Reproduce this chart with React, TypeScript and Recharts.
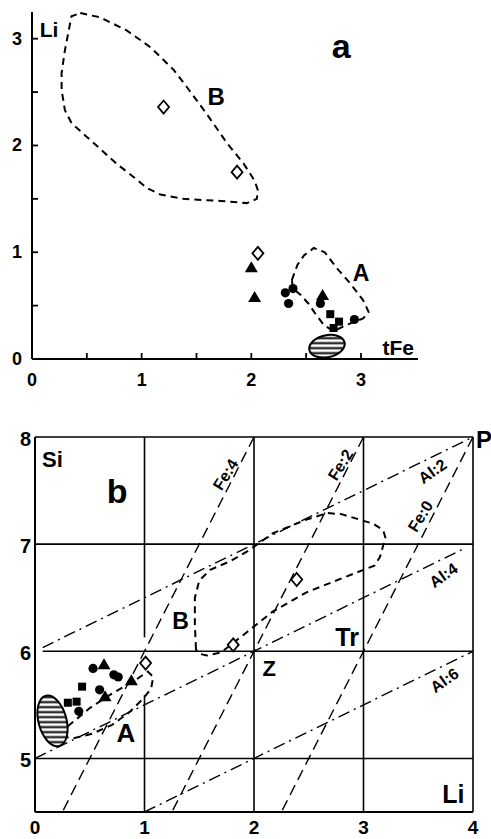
import React from 'react';
import { ScatterChart, Scatter, XAxis, YAxis, ReferenceLine, ReferenceDot } from 'recharts';

// ---------- panel a: Li vs tFe ----------
const aXTicks = [0, 0.5, 1, 1.5, 2, 2.5, 3];
const aYTicks = [0, 0.5, 1, 1.5, 2, 2.5, 3];

const aDiamonds = [
  { x: 1.2, y: 2.36 },
  { x: 1.87, y: 1.75 },
  { x: 2.06, y: 0.99 },
];
const aTriangles = [
  { x: 2.0, y: 0.86 },
  { x: 2.03, y: 0.58 },
  { x: 2.65, y: 0.6 },
];
const aCircles = [
  { x: 2.31, y: 0.62 },
  { x: 2.38, y: 0.66 },
  { x: 2.34, y: 0.52 },
  { x: 2.63, y: 0.52 },
  { x: 2.94, y: 0.37 },
];
const aSquares = [
  { x: 2.72, y: 0.42 },
  { x: 2.8, y: 0.35 },
  { x: 2.75, y: 0.29 },
];
const aHatched = [{ x: 2.69, y: 0.12 }];

// field outlines
const aFieldB = [
  { x: 0.44, y: 3.24 }, { x: 0.62, y: 3.2 }, { x: 0.86, y: 3.08 }, { x: 1.08, y: 2.92 },
  { x: 1.29, y: 2.71 }, { x: 1.41, y: 2.55 }, { x: 1.59, y: 2.3 }, { x: 1.78, y: 2.02 },
  { x: 1.93, y: 1.83 }, { x: 2.03, y: 1.67 }, { x: 2.06, y: 1.58 }, { x: 2.05, y: 1.5 },
  { x: 1.96, y: 1.46 }, { x: 1.72, y: 1.48 }, { x: 1.38, y: 1.5 }, { x: 1.17, y: 1.54 },
  { x: 1.05, y: 1.6 }, { x: 0.92, y: 1.71 }, { x: 0.77, y: 1.83 }, { x: 0.62, y: 1.97 },
  { x: 0.5, y: 2.08 }, { x: 0.36, y: 2.21 }, { x: 0.3, y: 2.33 }, { x: 0.27, y: 2.52 },
  { x: 0.27, y: 2.68 }, { x: 0.3, y: 2.89 }, { x: 0.33, y: 3.05 }, { x: 0.36, y: 3.21 },
];
const aFieldA = [
  { x: 2.37, y: 0.74 }, { x: 2.42, y: 0.88 }, { x: 2.48, y: 0.97 }, { x: 2.57, y: 1.04 },
  { x: 2.67, y: 1.0 }, { x: 2.78, y: 0.85 }, { x: 2.9, y: 0.71 }, { x: 3.02, y: 0.55 },
  { x: 3.07, y: 0.44 }, { x: 3.02, y: 0.38 }, { x: 2.87, y: 0.32 }, { x: 2.75, y: 0.26 },
  { x: 2.66, y: 0.32 }, { x: 2.58, y: 0.43 }, { x: 2.52, y: 0.52 }, { x: 2.45, y: 0.6 },
  { x: 2.38, y: 0.66 },
];

const aLabels = [
  { text: 'Li', x: 0.155, y: 3.09, size: 21 },
  { text: 'a', x: 2.82, y: 2.93, size: 34 },
  { text: 'B', x: 1.68, y: 2.46, size: 24 },
  { text: 'A', x: 3.0, y: 0.81, size: 23 },
  { text: 'tFe', x: 3.34, y: 0.11, size: 21 },
];

// ---------- panel b: Si vs Li ----------
const bXTicks = [0, 1, 2, 3, 4];
const bYTicks = [5, 6, 7, 8];

const bDiamonds = [
  { x: 1.01, y: 5.89 },
  { x: 1.81, y: 6.06 },
  { x: 2.39, y: 6.67 },
];
const bTriangles = [
  { x: 0.63, y: 5.88 },
  { x: 0.88, y: 5.73 },
  { x: 0.64, y: 5.58 },
];
const bCircles = [
  { x: 0.53, y: 5.84 },
  { x: 0.72, y: 5.78 },
  { x: 0.76, y: 5.76 },
  { x: 0.59, y: 5.64 },
  { x: 0.4, y: 5.44 },
];
const bSquares = [
  { x: 0.43, y: 5.67 },
  { x: 0.3, y: 5.52 },
  { x: 0.38, y: 5.53 },
];
const bHatched = [{ x: 0.16, y: 5.35 }];

const bFieldA = [
  { x: 0.3, y: 5.3 }, { x: 0.5, y: 5.47 }, { x: 0.71, y: 5.61 }, { x: 0.9, y: 5.72 },
  { x: 1.03, y: 5.81 }, { x: 1.08, y: 5.76 }, { x: 1.06, y: 5.65 }, { x: 0.98, y: 5.55 },
  { x: 0.86, y: 5.43 }, { x: 0.7, y: 5.31 }, { x: 0.52, y: 5.23 }, { x: 0.36, y: 5.19 },
  { x: 0.26, y: 5.2 },
];
const bFieldB = [
  { x: 1.47, y: 6.02 }, { x: 1.46, y: 6.25 }, { x: 1.46, y: 6.5 }, { x: 1.5, y: 6.66 },
  { x: 1.6, y: 6.76 }, { x: 1.78, y: 6.84 }, { x: 1.95, y: 6.94 }, { x: 2.17, y: 7.1 },
  { x: 2.48, y: 7.23 }, { x: 2.67, y: 7.29 }, { x: 2.8, y: 7.28 }, { x: 3.09, y: 7.19 },
  { x: 3.18, y: 7.13 }, { x: 3.2, y: 7.06 }, { x: 3.15, y: 6.88 }, { x: 3.1, y: 6.8 },
  { x: 2.8, y: 6.68 }, { x: 2.48, y: 6.55 }, { x: 2.17, y: 6.37 }, { x: 1.9, y: 6.15 },
  { x: 1.7, y: 5.99 }, { x: 1.57, y: 5.96 }, { x: 1.49, y: 5.98 },
];

// frame and grid
const bGrid = [
  [{ x: 0, y: 8 }, { x: 4, y: 8 }],
  [{ x: 4, y: 8 }, { x: 4, y: 4.5 }],
  [{ x: 0, y: 7 }, { x: 4, y: 7 }],
  [{ x: 0.07, y: 6 }, { x: 4, y: 6 }],
  [{ x: 0, y: 5 }, { x: 4, y: 5 }],
  [{ x: 1, y: 8 }, { x: 1, y: 6.13 }],
  [{ x: 1, y: 5.59 }, { x: 1, y: 4.5 }],
  [{ x: 2, y: 8 }, { x: 2, y: 4.5 }],
  [{ x: 3, y: 8 }, { x: 3, y: 4.5 }],
];
// constant Fe lines (dashed) and constant Al lines (dash-dot)
const feLines = [
  [{ x: 2, y: 8 }, { x: 0.25, y: 4.5 }],
  [{ x: 3, y: 8 }, { x: 1.25, y: 4.5 }],
  [{ x: 4, y: 8 }, { x: 2.25, y: 4.5 }],
];
const alLines = [
  [{ x: 0.07, y: 6.035 }, { x: 4, y: 8 }],
  [{ x: 0, y: 5 }, { x: 3.9, y: 6.95 }],
  [{ x: 1, y: 4.5 }, { x: 4, y: 6 }],
];

const bLabels = [
  { text: 'Si', x: 0.16, y: 7.79, size: 22 },
  { text: 'b', x: 0.75, y: 7.5, size: 34 },
  { text: 'B', x: 1.33, y: 6.28, size: 23 },
  { text: 'A', x: 0.83, y: 5.24, size: 26 },
  { text: 'Z', x: 2.14, y: 5.84, size: 22 },
  { text: 'Tr', x: 2.85, y: 6.13, size: 25 },
  { text: 'Li', x: 3.82, y: 4.67, size: 25 },
  { text: 'P', x: 4.1, y: 7.98, size: 24 },
];
const bLineLabels = [
  { text: 'Fe:4', x: 1.74, y: 7.65, angle: -58 },
  { text: 'Fe:2', x: 2.79, y: 7.74, angle: -58 },
  { text: 'Fe:0', x: 3.52, y: 7.26, angle: -58 },
  { text: 'Al:2', x: 3.63, y: 7.68, angle: -35 },
  { text: 'Al:4', x: 3.73, y: 6.71, angle: -35 },
  { text: 'Al:6', x: 3.74, y: 5.73, angle: -35 },
];

const FONT = '"Liberation Sans", Arial, Helvetica, sans-serif';
const txt = (size: number) => ({ fontFamily: FONT, fontWeight: 700, fontSize: size, fill: '#000' });

// ---------- marker shapes ----------
const Diamond = ({ cx, cy }: any) => (
  <path
    d={`M${cx},${cy - 6.5}L${cx + 5.5},${cy}L${cx},${cy + 6.5}L${cx - 5.5},${cy}Z`}
    fill="#fff"
    stroke="#000"
    strokeWidth={1.8}
  />
);
const Triangle = ({ cx, cy }: any) => (
  <path d={`M${cx},${cy - 6}L${cx + 6.5},${cy + 5}L${cx - 6.5},${cy + 5}Z`} fill="#000" />
);
const Dot = ({ cx, cy }: any) => <circle cx={cx} cy={cy} r={4.6} fill="#000" />;
const Square = ({ cx, cy }: any) => <rect x={cx - 4} y={cy - 4} width={8} height={8} fill="#000" />;
const NoMark = () => <g />;

const hatchedEllipse = (id: string, rx: number, ry: number, angle: number) => ({ cx, cy }: any) => (
  <g>
    <defs>
      <pattern id={id} width={10} height={5} patternUnits="userSpaceOnUse" patternTransform={`rotate(${-angle})`}>
        <rect width={10} height={5} fill="#fff" />
        <rect y={1.6} width={10} height={2} fill="#000" />
      </pattern>
    </defs>
    <ellipse
      cx={cx}
      cy={cy}
      rx={rx}
      ry={ry}
      transform={`rotate(${angle} ${cx} ${cy})`}
      fill={`url(#${id})`}
      stroke="#000"
      strokeWidth={2}
    />
  </g>
);
const HatchA = hatchedEllipse('hatch-a', 18, 11, -12);
const HatchB = hatchedEllipse('hatch-b', 14, 26, -15);

// ---------- axis ticks (x, y arrive on the axis line since tickSize/tickMargin are 0) ----------
const TickAX = ({ x, y, payload }: any) => (
  <g>
    <line x1={x} y1={y} x2={x} y2={y - 6} stroke="#000" strokeWidth={1.8} />
    {Number.isInteger(payload.value) && (
      <text x={x} y={y + 21} textAnchor="middle" dominantBaseline="central" style={txt(18)}>
        {payload.value}
      </text>
    )}
  </g>
);
const TickAY = ({ x, y, payload }: any) => (
  <g>
    <line x1={x} y1={y} x2={x + 6} y2={y} stroke="#000" strokeWidth={1.8} />
    {Number.isInteger(payload.value) && (
      <text x={x - 10} y={y} textAnchor="end" dominantBaseline="central" style={txt(18)}>
        {payload.value}
      </text>
    )}
  </g>
);
const TickBX = ({ x, y, payload }: any) => (
  <text x={x} y={y + 15} textAnchor="middle" dominantBaseline="central" style={txt(19)}>
    {payload.value}
  </text>
);
const TickBY = ({ x, y, payload }: any) => (
  <text x={x - 4} y={y + 2} textAnchor="end" dominantBaseline="central" style={txt(20)}>
    {payload.value}
  </text>
);

const fieldLine = { stroke: '#000', strokeWidth: 2, strokeDasharray: '7 5' };

const textDot = (l: any, angle = 0) => (
  <ReferenceDot
    key={l.text + l.x}
    x={l.x}
    y={l.y}
    r={0}
    ifOverflow="visible"
    shape={(p: any) => (
      <text
        x={p.cx}
        y={p.cy}
        textAnchor="middle"
        dominantBaseline="central"
        transform={angle ? `rotate(${angle} ${p.cx} ${p.cy})` : undefined}
        style={txt(l.size ?? 16)}
      >
        {l.text}
      </text>
    )}
  />
);

export default function App() {
  return (
    <div style={{ position: 'absolute', left: 0, top: 0, width: 491, height: 839, background: '#fff' }}>
      <div style={{ position: 'absolute', left: 0, top: 0 }}>
        <ScatterChart width={491} height={400} margin={{ top: 12, right: 73, bottom: 11, left: 12 }}>
          <XAxis
            type="number"
            dataKey="x"
            domain={[0, 3.52]}
            ticks={aXTicks}
            allowDataOverflow
            height={30}
            tickSize={0}
            tickMargin={0}
            tick={TickAX}
            axisLine={{ stroke: '#000', strokeWidth: 2 }}
            interval={0}
          />
          <YAxis
            type="number"
            dataKey="y"
            domain={[0, 3.25]}
            ticks={aYTicks}
            allowDataOverflow
            width={20}
            tickSize={0}
            tickMargin={0}
            tick={TickAY}
            axisLine={{ stroke: '#000', strokeWidth: 2 }}
            interval={0}
          />
          <Scatter data={aFieldB} shape={NoMark} line={fieldLine} lineJointType="linearClosed" isAnimationActive={false} />
          <Scatter data={aFieldA} shape={NoMark} line={fieldLine} lineJointType="linearClosed" isAnimationActive={false} />
          <Scatter data={aHatched} shape={HatchA} isAnimationActive={false} />
          <Scatter data={aDiamonds} shape={Diamond} isAnimationActive={false} />
          <Scatter data={aTriangles} shape={Triangle} isAnimationActive={false} />
          <Scatter data={aCircles} shape={Dot} isAnimationActive={false} />
          <Scatter data={aSquares} shape={Square} isAnimationActive={false} />
          {aLabels.map((l) => textDot(l))}
        </ScatterChart>
      </div>

      <div style={{ position: 'absolute', left: 0, top: 400 }}>
        <ScatterChart width={491} height={439} margin={{ top: 37, right: 18, bottom: 2, left: 10 }}>
          <XAxis
            type="number"
            dataKey="x"
            domain={[0, 4]}
            ticks={bXTicks}
            allowDataOverflow
            height={25}
            tickSize={0}
            tickMargin={0}
            tick={TickBX}
            axisLine={{ stroke: '#000', strokeWidth: 2 }}
            interval={0}
          />
          <YAxis
            type="number"
            dataKey="y"
            domain={[4.5, 8]}
            ticks={bYTicks}
            allowDataOverflow
            width={25}
            tickSize={0}
            tickMargin={0}
            tick={TickBY}
            axisLine={{ stroke: '#000', strokeWidth: 2 }}
            interval={0}
          />
          {bGrid.map((seg, i) => (
            <ReferenceLine key={'g' + i} segment={seg} stroke="#000" strokeWidth={1.6} ifOverflow="visible" />
          ))}
          {feLines.map((seg, i) => (
            <ReferenceLine key={'fe' + i} segment={seg} stroke="#000" strokeWidth={1.4} strokeDasharray="11 6" ifOverflow="visible" />
          ))}
          {alLines.map((seg, i) => (
            <ReferenceLine key={'al' + i} segment={seg} stroke="#000" strokeWidth={1.4} strokeDasharray="12 5 2 5" ifOverflow="visible" />
          ))}
          <Scatter data={bFieldB} shape={NoMark} line={fieldLine} lineJointType="linearClosed" isAnimationActive={false} />
          <Scatter data={bFieldA} shape={NoMark} line={fieldLine} lineJointType="linearClosed" isAnimationActive={false} />
          <Scatter data={bHatched} shape={HatchB} isAnimationActive={false} />
          <Scatter data={bDiamonds} shape={Diamond} isAnimationActive={false} />
          <Scatter data={bTriangles} shape={Triangle} isAnimationActive={false} />
          <Scatter data={bCircles} shape={Dot} isAnimationActive={false} />
          <Scatter data={bSquares} shape={Square} isAnimationActive={false} />
          {bLabels.map((l) => textDot(l))}
          {bLineLabels.map((l) => textDot(l, l.angle))}
        </ScatterChart>
      </div>
    </div>
  );
}
